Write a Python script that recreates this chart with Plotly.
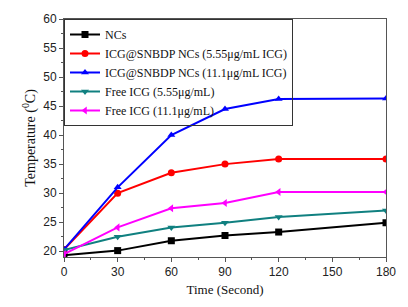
import plotly.graph_objects as go

time_s = [0, 30, 60, 90, 120, 180]
ncs = [19.3, 20.1, 21.8, 22.7, 23.3, 24.9]
icg_nc_555 = [20.3, 30.0, 33.5, 35.0, 35.9, 35.9]
icg_nc_111 = [20.3, 31.0, 40.0, 44.5, 46.2, 46.3]
free_555 = [20.2, 22.5, 24.1, 24.9, 25.9, 27.0]
free_111 = [19.5, 24.1, 27.4, 28.3, 30.2, 30.2]

series = [
    ("NCs", ncs, "#000000", "square"),
    ("ICG@SNBDP NCs (5.55μg/mL ICG)", icg_nc_555, "#ff0000", "circle"),
    ("ICG@SNBDP NCs (11.1μg/mL ICG)", icg_nc_111, "#0000ff", "triangle-up"),
    ("Free ICG (5.55μg/mL)", free_555, "#108080", "triangle-down"),
    ("Free ICG (11.1μg/mL)", free_111, "#ff00ff", "triangle-left"),
]

fig = go.Figure()
for name, ys, col, sym in series:
    fig.add_trace(go.Scatter(
        x=time_s, y=ys, name=name, mode="lines+markers",
        line=dict(color=col, width=2),
        marker=dict(symbol=sym, size=7, color=col),
    ))

axis_common = dict(
    showline=True, linecolor="#555555", linewidth=1, mirror=True,
    ticks="outside", ticklen=4, tickcolor="#555555", showgrid=False, zeroline=False,
    tickfont=dict(family="Liberation Sans, Arial", size=12, color="#222222"),
)

fig.update_layout(
    width=408, height=307,
    margin=dict(l=64, r=16, t=18, b=46),
    paper_bgcolor="white", plot_bgcolor="white",
    showlegend=True,
    legend=dict(
        x=0, y=1, xanchor="left", yanchor="top",
        bordercolor="#333333", borderwidth=1, bgcolor="rgba(255,255,255,0)",
        font=dict(family="Liberation Serif, Times New Roman", size=12, color="#111111"),
        tracegroupgap=0, itemwidth=30,
    ),
    xaxis=dict(
        range=[0, 180], tickvals=[0, 30, 60, 90, 120, 150, 180],
        minor=dict(ticks="outside", ticklen=2, dtick=15, tickcolor="#555555"),
        title=dict(text="Time (Second)", standoff=6,
                   font=dict(family="Liberation Serif, Times New Roman", size=13, color="#111111")),
        **axis_common,
    ),
    yaxis=dict(
        range=[19, 60], tickvals=[20, 25, 30, 35, 40, 45, 50, 55, 60],
        minor=dict(ticks="outside", ticklen=2, dtick=2.5, tick0=20, tickcolor="#555555"),
        title=dict(text="Temperature (<sup>0</sup>C)", standoff=4,
                   font=dict(family="Liberation Serif, Times New Roman", size=14, color="#111111")),
        **axis_common,
    ),
)

fig.write_html("out.html", config={"displayModeBar": False},
               post_script="document.body.style.margin='0';")
